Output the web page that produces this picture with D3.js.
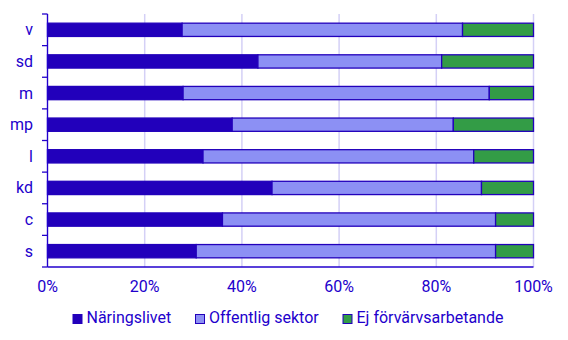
<!DOCTYPE html>
<html>
<head>
<meta charset="utf-8">
<script src="https://cdn.jsdelivr.net/npm/d3@7"></script>
<style>
  body { margin: 0; background: #fff; }
  svg { display: block; font-family: Roboto, "Noto Sans", sans-serif; }
</style>
</head>
<body>
<svg id="chart" width="568" height="340"></svg>
<script>
// Parties, top to bottom
const categories = ["v", "sd", "m", "mp", "l", "kd", "c", "s"];
// Share (%) of each group per party
const naringslivet = [27.7, 43.3, 27.9, 38.0, 32.0, 46.2, 36.0, 30.6];
const offentlig    = [57.7, 37.8, 63.0, 45.5, 55.7, 43.1, 56.2, 61.6];
const ejForvarv    = [14.6, 18.9,  9.1, 16.5, 12.3, 10.7,  7.8,  7.8];
const seriesNames = ["Näringslivet", "Offentlig sektor", "Ej förvärvsarbetande"];
const xTicks = [0, 20, 40, 60, 80, 100];

const colors = ["#2200bb", "#8c90f4", "#339c46"];
const ink = "#2200cc";

const svg = d3.select("#chart");
const margin = { top: 14, right: 34.5, bottom: 73, left: 47.5 };
const W = 568, H = 340;
const innerW = W - margin.left - margin.right;
const innerH = H - margin.top - margin.bottom;

const rows = categories.map((c, i) => ({
  cat: c,
  "Näringslivet": naringslivet[i],
  "Offentlig sektor": offentlig[i],
  "Ej förvärvsarbetande": ejForvarv[i]
}));
const stacked = d3.stack().keys(seriesNames)(rows);

const x = d3.scaleLinear().domain([0, 100]).range([0, innerW]);
const y = d3.scaleBand().domain(categories).range([0, innerH]).paddingInner(0.58).paddingOuter(0.29);

const g = svg.append("g").attr("transform", `translate(${margin.left},${margin.top})`);

// Vertical gridlines
g.append("g").selectAll("line").data(xTicks).join("line")
  .attr("x1", d => x(d)).attr("x2", d => x(d))
  .attr("y1", 0).attr("y2", innerH)
  .attr("stroke", "#d4d0f6").attr("stroke-width", 1.5);

// Stacked bars
g.append("g").selectAll("g").data(stacked).join("g")
  .attr("fill", (d, i) => colors[i])
  .selectAll("rect").data(d => d).join("rect")
  .attr("x", d => x(d[0]))
  .attr("width", d => x(d[1]) - x(d[0]))
  .attr("y", d => y(d.data.cat))
  .attr("height", y.bandwidth())
  .attr("stroke", "#2200bb").attr("stroke-width", 1.3);

// Y axis with ticks between bands
const step = y.step();
const yAxis = g.append("g");
yAxis.append("line").attr("x1", 0).attr("x2", 0).attr("y1", 0).attr("y2", innerH)
  .attr("stroke", ink).attr("stroke-width", 1.3);
yAxis.selectAll("line.tick").data(d3.range(categories.length + 1)).join("line")
  .attr("class", "tick")
  .attr("x1", -5.5).attr("x2", 0)
  .attr("y1", i => i * step).attr("y2", i => i * step)
  .attr("stroke", ink).attr("stroke-width", 1.3);
yAxis.selectAll("text").data(categories).join("text")
  .attr("x", -14.5).attr("y", d => y(d) + y.bandwidth() / 2)
  .attr("text-anchor", "end").attr("dominant-baseline", "central")
  .attr("fill", ink).attr("font-size", 16).text(d => d);

// X axis
const xAxis = g.append("g").attr("transform", `translate(0,${innerH})`);
xAxis.append("line").attr("x1", 0).attr("x2", innerW)
  .attr("stroke", ink).attr("stroke-width", 1.3);
xAxis.selectAll("text").data(xTicks).join("text")
  .attr("x", d => x(d)).attr("y", 25)
  .attr("text-anchor", "middle")
  .attr("fill", ink).attr("font-size", 16).text(d => d + "%");

// Legend
const legendX = [73, 195.5, 343];
const legend = svg.append("g").attr("transform", "translate(0,323)");
const items = legend.selectAll("g").data(seriesNames).join("g")
  .attr("transform", (d, i) => `translate(${legendX[i]},0)`);
items.append("rect").attr("x", 0).attr("y", -8.5).attr("width", 9).attr("height", 9)
  .attr("fill", (d, i) => colors[i]).attr("stroke", "#2200bb").attr("stroke-width", 1);
items.append("text").attr("x", 13.5).attr("y", 0)
  .attr("fill", ink).attr("font-size", 16).text(d => d);
</script>
</body>
</html>
